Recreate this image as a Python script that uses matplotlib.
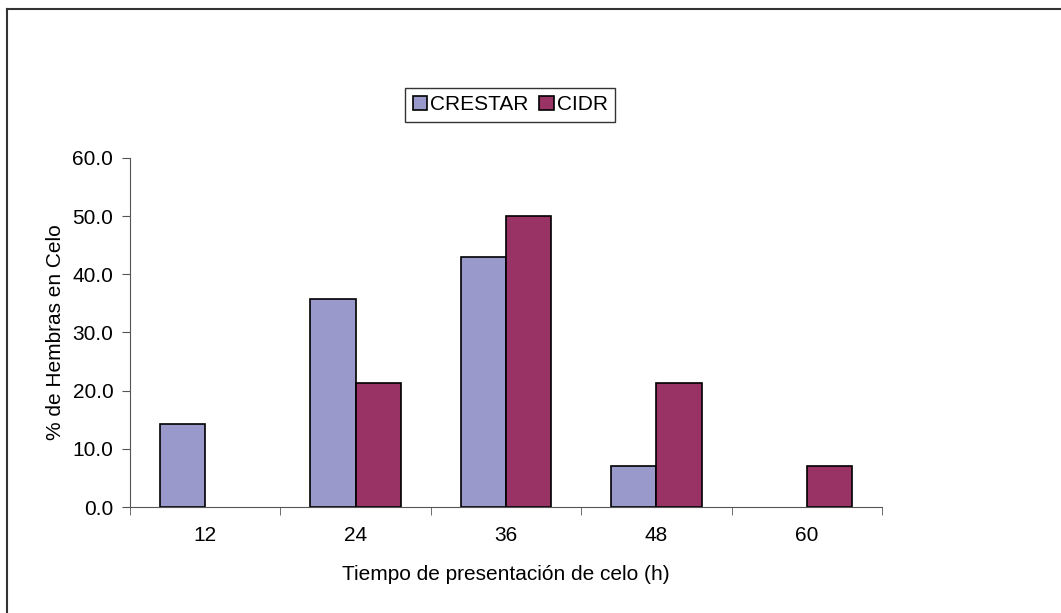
#
# Tiempo de presentacion de celo - CRESTAR vs CIDR
#

import matplotlib.pyplot as plt
import numpy as np
from matplotlib.patches import Patch

# 1. Input
horas = ["12", "24", "36", "48", "60"]
crestar = [14.3, 35.7, 42.9, 7.1, 0.0]
cidr = [0.0, 21.4, 50.0, 21.4, 7.1]

# 2. Process
plt.rcParams['font.family'] = ['Liberation Sans', 'DejaVu Sans']
x = np.arange(len(horas))
w = 0.3
fs = 15
c1, c2 = "#9999CC", "#993366"

# 3. Output
fig = plt.figure(figsize=(10.61, 6.13), dpi=100)
ax = fig.add_axes([0.1225, 0.1729, 0.7088, 0.5694])

b1 = ax.bar(x - w / 2, crestar, w, color=c1, edgecolor="black", linewidth=1.2)
b2 = ax.bar(x + w / 2, cidr, w, color=c2, edgecolor="black", linewidth=1.2)
# hide empty bars (no line on the axis)
for bars, vals in [(b1, crestar), (b2, cidr)]:
    for r, v in zip(bars, vals):
        if v == 0:
            r.set_visible(False)

ax.set_xlim(-0.5, len(horas) - 0.5)
ax.set_ylim(0, 60)
ax.set_yticks(np.arange(0, 61, 10))
ax.set_yticklabels(["%.1f" % v for v in np.arange(0, 61, 10)], fontsize=fs)
ax.set_xticks(x)
ax.set_xticklabels(horas, fontsize=fs)
ax.tick_params(axis="x", length=0, pad=14)
ax.set_xticks(np.arange(-0.5, len(horas)), minor=True)
ax.tick_params(axis="x", which="minor", length=6, direction="out", color="#555555")
ax.tick_params(axis="y", length=6, direction="out", color="#555555", pad=6)

for s in ["top", "right"]:
    ax.spines[s].set_visible(False)
for s in ["left", "bottom"]:
    ax.spines[s].set_color("#555555")

ax.set_xlabel("Tiempo de presentación de celo (h)", fontsize=fs, labelpad=14)
ax.set_ylabel("% de Hembras en Celo", fontsize=fs, labelpad=5)

handles = [Patch(facecolor=c1, edgecolor="black", linewidth=1.2, label="CRESTAR"),
           Patch(facecolor=c2, edgecolor="black", linewidth=1.2, label="CIDR")]
leg = fig.legend(handles=handles, loc="center", bbox_to_anchor=(0.481, 0.829), ncol=2, fontsize=fs,
                 handlelength=0.7, handleheight=0.7, handletextpad=0.15,
                 columnspacing=0.5, borderpad=0.35, fancybox=False, frameon=True)
leg.get_frame().set_edgecolor("black")
leg.get_frame().set_linewidth(1.0)

# outer chart border (cut off at right and bottom)
fig.add_artist(plt.Line2D([7 / 1061, 7 / 1061], [0, 1 - 9 / 613], transform=fig.transFigure,
                          color="#333333", linewidth=1.5))
fig.add_artist(plt.Line2D([7 / 1061, 1], [1 - 9 / 613, 1 - 9 / 613], transform=fig.transFigure,
                          color="#333333", linewidth=1.5))

plt.savefig("out.png", dpi=100)
